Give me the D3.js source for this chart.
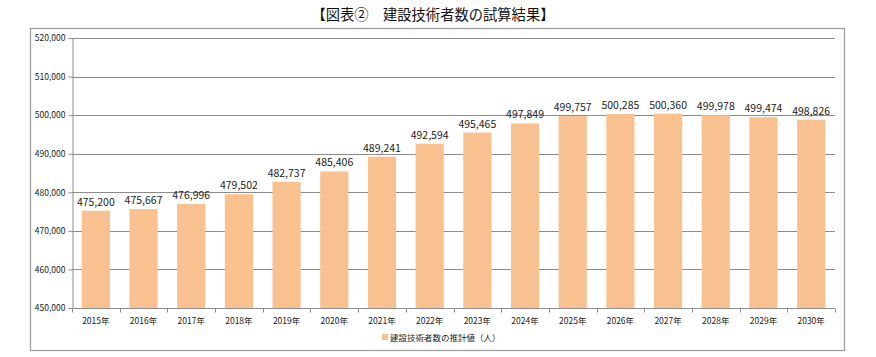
<!DOCTYPE html>
<html><head><meta charset="utf-8">
<script src="https://cdn.jsdelivr.net/npm/d3@7"></script>
<style>body{margin:0;background:#fff}svg{display:block}</style>
</head><body>
<svg id="c" width="876" height="357"></svg>
<script>
const categories = ["2015年","2016年","2017年","2018年","2019年","2020年","2021年","2022年","2023年","2024年","2025年","2026年","2027年","2028年","2029年","2030年"];
const values = [475200,475667,476996,479502,482737,485406,489241,492594,495465,497849,499757,500285,500360,499978,499474,498826];
const yTicks = [450000,460000,470000,480000,490000,500000,510000,520000];
const titleText = "【図表②　建設技術者数の試算結果】";
const seriesName = "建設技術者数の推計値（人）";

const svg = d3.select("#c");
const font = "'Noto Sans CJK JP','Noto Sans',sans-serif";
const pL = 72, pR = 835, pT = 38, pB = 308;
const barColor = "#F9C090", gridColor = "#8c8c8c", axisColor = "#8c8c8c";

svg.append("rect").attr("x",30.5).attr("y",28.5).attr("width",814).attr("height",322)
  .attr("fill","#fff").attr("stroke","#a0a0a0").attr("stroke-width",1.3);

svg.append("text").attr("x",433).attr("y",20).attr("text-anchor","middle")
  .attr("font-family",font).attr("font-size",14.3).attr("font-weight",400).attr("fill","#111").text(titleText);

const x = d3.scaleBand().domain(categories).range([pL,pR]).paddingInner(0.41).paddingOuter(0.205);
const xb = d3.scaleBand().domain(categories).range([pL,pR]);
const y = d3.scaleLinear().domain([450000,520000]).range([pB,pT]);

// gridlines
svg.append("g").selectAll("line").data(yTicks.slice(1)).join("line")
  .attr("x1",pL).attr("x2",pR).attr("y1",d=>Math.round(y(d))+0.5).attr("y2",d=>Math.round(y(d))+0.5)
  .attr("stroke",gridColor).attr("stroke-width",1);

// bars
svg.append("g").selectAll("rect").data(values).join("rect")
  .attr("x",(d,i)=>x(categories[i])).attr("width",x.bandwidth())
  .attr("y",d=>y(d)).attr("height",d=>y(450000)-y(d)).attr("fill",barColor);

// value labels
svg.append("g").selectAll("text").data(values).join("text")
  .attr("x",(d,i)=>x(categories[i])+x.bandwidth()/2).attr("y",d=>y(d)-5)
  .attr("text-anchor","middle").attr("font-family",font).attr("font-size",10.5).attr("fill","#222")
  .text(d=>d3.format(",")(d));

// y axis
const yAxis = d3.axisLeft(y).tickValues(yTicks).tickFormat(d3.format(",")).tickSize(4).tickPadding(3);
const gy = svg.append("g").attr("transform",`translate(${pL+0.5},0)`).call(yAxis);
gy.selectAll("text").attr("font-family",font).attr("font-size",8.5).attr("fill","#222");
gy.selectAll("line,path").attr("stroke",axisColor);

// x axis
const gx = svg.append("g").attr("transform",`translate(0,${pB+0.5})`);
gx.append("line").attr("x1",pL).attr("x2",pR).attr("stroke",axisColor);
gx.selectAll("line.t").data(categories.concat(["end"])).join("line").attr("class","t")
  .attr("x1",(d,i)=>Math.round(pL+i*xb.step())+0.5).attr("x2",(d,i)=>Math.round(pL+i*xb.step())+0.5)
  .attr("y1",0).attr("y2",4).attr("stroke",axisColor);
gx.selectAll("text").data(categories).join("text")
  .attr("x",d=>xb(d)+xb.bandwidth()/2).attr("y",15).attr("text-anchor","middle")
  .attr("font-family",font).attr("font-size",8.5).attr("fill","#222").text(d=>d);

// legend
const lg = svg.append("g");
lg.append("rect").attr("x",382).attr("y",334).attr("width",6).attr("height",6).attr("fill",barColor);
lg.append("text").attr("x",390).attr("y",340.5).attr("font-family",font).attr("font-size",8.5).attr("fill","#222").text(seriesName);
</script>
</body></html>
